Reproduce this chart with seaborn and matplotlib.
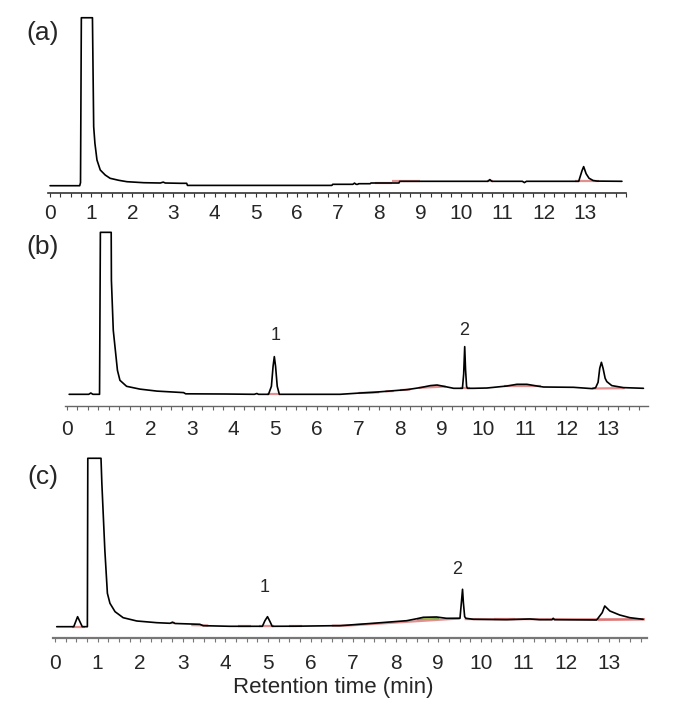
import pandas as pd
import matplotlib
matplotlib.use("Agg")
import matplotlib.pyplot as plt
import seaborn as sns

sns.set_theme(style="white")
plt.rcParams['font.family'] = ['Liberation Sans', 'DejaVu Sans']

# --- chromatogram traces (time in min, signal above baseline, arbitrary units) ---
# (a)
t_a = [0.0, 0.72, 0.74, 0.76, 1.03, 1.06, 1.09, 1.14, 1.22, 1.34, 1.46, 1.67, 1.87,
       2.28, 2.68, 2.75, 2.80, 3.17, 3.32, 3.34, 6.85, 6.87, 7.36, 7.40, 7.44, 7.48,
       7.50, 7.78, 7.80, 8.48, 8.50, 10.64, 10.69, 10.74, 11.48, 11.53, 11.58,
       12.85, 12.93, 12.97, 13.03, 13.10, 13.20, 13.30, 13.90]
y_a = [0.0, 0.0, 3.0, 168.0, 168.0, 59.0, 42.4, 25.7, 15.7, 10.7, 7.4, 5.4, 4.0,
       3.0, 2.7, 3.6, 2.7, 2.4, 2.4, 0.3, 0.3, 1.4, 1.4, 2.6, 1.4, 1.4,
       2.0, 2.0, 2.7, 2.7, 4.4, 4.4, 6.1, 4.4, 4.4, 3.1, 4.4,
       4.4, 15.0, 19.1, 12.0, 7.5, 5.2, 4.6, 4.4]

# (b)
t_b = [0.05, 0.52, 0.57, 0.62, 0.78, 0.80, 1.06, 1.065, 1.11, 1.21, 1.27, 1.43, 1.75,
       2.16, 2.80, 2.85, 3.80, 4.50, 4.56, 4.60, 4.84, 4.91, 4.95, 4.98, 5.01, 5.05,
       5.10, 6.56, 7.04, 7.36, 7.76, 8.17, 8.49, 8.73, 8.89, 9.05, 9.29, 9.50, 9.53,
       9.555, 9.575, 9.60, 9.62, 9.77, 10.09, 10.57, 10.81, 11.05, 11.29, 11.45,
       12.17, 12.61, 12.70, 12.76, 12.80, 12.84, 12.88, 12.93, 12.97, 13.09, 13.37,
       13.85]
y_b = [0.0, 0.0, 1.3, 0.0, 0.0, 162.0, 162.0, 114.0, 64.0, 24.0, 14.0, 8.0, 5.2,
       3.2, 1.7, 0.5, 0.3, 0.0, 0.8, 0.0, 0.0, 8.0, 28.0, 37.7, 28.0, 8.0,
       0.0, 0.0, 1.3, 2.0, 3.3, 4.7, 6.7, 8.7, 9.3, 8.0, 6.0, 6.0, 20.0,
       47.7, 25.0, 8.0, 6.0, 6.0, 6.3, 8.3, 10.0, 10.0, 8.3, 7.3,
       7.0, 5.7, 6.5, 12.0, 26.0, 32.0, 26.0, 16.0, 12.7, 8.7, 6.7,
       6.0]

# (c)
t_c = [0.04, 0.44, 0.53, 0.64, 0.76, 0.77, 1.08, 1.10, 1.17, 1.23, 1.29, 1.41, 1.60,
       1.92, 2.39, 2.70, 2.76, 2.82, 3.40, 3.48, 4.10, 4.87, 4.93, 4.99, 5.05, 5.10,
       5.67, 6.57, 6.69, 7.47, 8.26, 8.50, 8.65, 8.96, 9.19, 9.51, 9.545, 9.57,
       9.59, 9.62, 9.65, 9.82, 10.60, 11.15, 11.38, 11.67, 11.70, 11.73, 12.72,
       12.85, 12.91, 13.03, 13.26, 13.50, 13.81]
y_c = [0.0, 0.0, 10.0, 0.0, 0.0, 168.4, 168.4, 143.4, 76.7, 33.4, 23.4, 15.0, 9.0,
       5.7, 4.0, 3.4, 4.5, 3.2, 2.4, 1.0, 0.4, 0.4, 6.0, 10.0, 5.0, 0.4,
       0.5, 1.0, 1.0, 3.4, 6.0, 8.0, 9.4, 9.7, 8.4, 8.4, 25.0, 37.4,
       24.0, 10.0, 8.4, 7.4, 7.0, 7.7, 7.0, 7.0, 8.4, 7.0, 6.7,
       14.0, 20.7, 15.7, 11.7, 9.0, 7.4]

# integration baselines (red marks): t_start, y_start, t_end, y_end
red_a = [(7.9, 2.7, 8.3, 2.7), (8.3, 4.4, 9.0, 4.4), (10.62, 4.4, 10.76, 4.4),
         (12.75, 4.4, 13.35, 4.4)]
red_b = [(4.8, 0.0, 5.12, 0.0), (7.0, 1.3, 7.5, 2.0), (7.65, 3.0, 7.85, 3.3),
         (8.0, 4.2, 8.25, 4.8), (8.45, 6.5, 9.1, 7.8), (9.45, 6.0, 9.68, 6.0),
         (10.5, 8.0, 11.4, 8.0), (12.62, 5.8, 13.4, 6.2)]
red_c = [(0.4, 0.0, 0.7, 0.0), (2.72, 3.5, 2.82, 3.5), (3.2, 1.6, 3.6, 1.2),
         (4.3, 0.3, 4.6, 0.3), (4.8, 0.4, 5.15, 0.4), (5.5, 0.5, 5.8, 0.5),
         (6.5, 1.0, 6.9, 1.1), (6.9, 1.2, 9.5, 8.2), (9.62, 7.6, 13.85, 7.4),
         (10.3, 7.3, 10.8, 7.3), (12.75, 6.7, 13.85, 7.4)]

# small shaded peak in (c)
fill_t = [8.50, 8.60, 8.70, 8.80, 8.90, 9.00]
fill_lo = [7.6, 7.8, 8.0, 8.2, 8.4, 8.5]
fill_hi = [8.0, 9.2, 9.5, 9.6, 9.6, 9.0]

# peak labels: text, t, height
labels_b = [("1", 5.00, 58.6), ("2", 9.53, 64.3)]
labels_c = [("1", 4.93, 39.4), ("2", 9.44, 56.7)]

panels = [
    dict(t=t_a, y=y_a, red=red_a, labels=[], letter="(a)", letter_y=33,
         pos=[0.0701, 0.7342, 0.8438, 0.2434], xlim=(-0.05, 14.0), ylim=(-7, 169.5),
         spine="#333333", lw_sp=1.2, pad=5),
    dict(t=t_b, y=y_b, red=red_b, labels=labels_b, letter="(b)", letter_y=247,
         pos=[0.0949, 0.4404, 0.8511, 0.2412], xlim=(-0.05, 13.96), ylim=(-11.4, 163.5),
         spine="#666666", lw_sp=1.0, pad=7),
    dict(t=t_c, y=y_c, red=red_c, labels=labels_c, letter="(c)", letter_y=477,
         pos=[0.0772, 0.1196, 0.8672, 0.2505], xlim=(-0.05, 13.9), ylim=(-11.6, 170),
         spine="#777777", lw_sp=1.6, pad=8),
]

fig = plt.figure(figsize=(6.85, 7.25), dpi=100)

for i, p in enumerate(panels):
    ax = fig.add_axes(p["pos"])
    df = pd.DataFrame({"time": p["t"], "signal": p["y"]})
    for (t0, y0, t1, y1) in p["red"]:
        ax.plot([t0, t1], [y0, y1], color="#d96a6a", lw=1.6, alpha=0.75,
                solid_capstyle="butt", zorder=1)
    if i == 2:
        ax.fill_between(fill_t, fill_lo, fill_hi, color="#e8d64a", alpha=0.8,
                        edgecolor="#5a9a3a", lw=0.8, zorder=1)
    sns.lineplot(data=df, x="time", y="signal", estimator=None, sort=False,
                 color="black", lw=1.2, ax=ax, zorder=2)
    for txt, tx, ty in p["labels"]:
        ax.text(tx, ty, txt, ha="center", va="center", fontsize=13)

    ax.set_xlim(*p["xlim"])
    ax.set_ylim(*p["ylim"])
    ax.set_xticks(range(14))
    ax.set_xticks([k * 0.25 for k in range(57) if k * 0.25 <= p["xlim"][1]], minor=True)
    ax.set_yticks([])
    ax.set_xlabel("")
    ax.set_ylabel("")
    for s in ["left", "right", "top"]:
        ax.spines[s].set_visible(False)
    ax.spines["bottom"].set_color(p["spine"])
    ax.spines["bottom"].set_linewidth(p["lw_sp"])
    ax.tick_params(axis="x", which="both", direction="out", length=3, width=0.8,
                   color=p["spine"], bottom=True)
    ax.tick_params(axis="x", which="major", labelsize=15, pad=p["pad"])
    ax.patch.set_alpha(0)

    fig.text(43 / 685, 1 - p["letter_y"] / 725, p["letter"], ha="center", va="center",
             fontsize=19)

fig.text(333 / 685, 1 - 687 / 725, "Retention time (min)", ha="center", va="center",
         fontsize=16)

fig.savefig("out.png", dpi=100)
